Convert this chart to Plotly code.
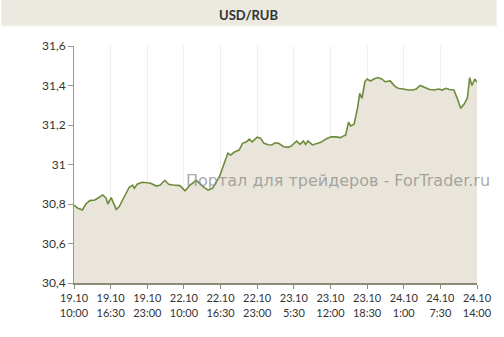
import plotly.graph_objects as go

# hours since 19.10 10:00
hours = [0.0, 0.6, 1.5, 2.1, 2.8, 3.7, 4.2, 5.1, 5.7, 6.0,
         6.6, 7.5, 8.0, 8.9, 9.8, 10.4, 10.7, 11.2, 12.1, 13.0,
         13.6, 14.6, 15.3, 16.1, 16.8, 17.6, 18.8, 19.7, 20.6, 21.7,
         22.9, 23.8, 24.6, 25.8, 26.7, 27.3, 27.8, 28.4, 29.3, 29.9,
         30.6, 31.1, 31.6, 32.5, 33.1, 33.7, 34.5, 35.1, 35.7, 36.3,
         37.2, 38.0, 38.6, 39.5, 40.1, 40.7, 41.1, 41.5, 42.3, 43.0,
         43.8, 44.7, 45.6, 46.5, 47.3, 47.9, 48.2, 48.7, 49.1, 49.7,
         50.3, 50.7, 51.1, 51.6, 52.0, 52.6, 53.2, 53.9, 54.6, 55.2,
         56.1, 56.9, 57.5, 58.4, 59.3, 60.1, 60.7, 61.4, 62.2, 63.1,
         63.9, 64.7, 65.3, 66.0, 66.6, 67.4, 68.0, 68.6, 69.2, 69.8,
         70.2, 70.6, 71.1, 71.5]
rate = [30.795, 30.780, 30.770, 30.800, 30.817, 30.820, 30.829, 30.846, 30.830, 30.800,
        30.832, 30.773, 30.786, 30.837, 30.885, 30.896, 30.880, 30.900, 30.910, 30.908,
        30.905, 30.891, 30.896, 30.920, 30.900, 30.896, 30.893, 30.867, 30.896, 30.920,
        30.888, 30.870, 30.880, 30.938, 31.006, 31.057, 31.048, 31.062, 31.073, 31.107,
        31.115, 31.129, 31.115, 31.138, 31.133, 31.107, 31.100, 31.099, 31.110, 31.107,
        31.090, 31.087, 31.094, 31.119, 31.102, 31.119, 31.102, 31.119, 31.099, 31.104,
        31.112, 31.129, 31.140, 31.140, 31.136, 31.146, 31.149, 31.214, 31.195, 31.204,
        31.285, 31.360, 31.335, 31.419, 31.433, 31.423, 31.433, 31.440, 31.433, 31.419,
        31.423, 31.397, 31.386, 31.382, 31.377, 31.377, 31.382, 31.400, 31.389, 31.380,
        31.377, 31.382, 31.377, 31.386, 31.380, 31.377, 31.335, 31.285, 31.305, 31.338,
        31.440, 31.400, 31.433, 31.416]

tick_hours = [0, 6.5, 13, 19.5, 26, 32.5, 39, 45.5, 52, 58.5, 65, 71.5]
tick_labels = ["19.10<br>10:00", "19.10<br>16:30", "19.10<br>23:00", "22.10<br>10:00",
               "22.10<br>16:30", "22.10<br>23:00", "23.10<br>5:30", "23.10<br>12:00",
               "23.10<br>18:30", "24.10<br>1:00", "24.10<br>7:30", "24.10<br>14:00"]
y_ticks = [30.4, 30.6, 30.8, 31.0, 31.2, 31.4, 31.6]

fig = go.Figure()
fig.add_trace(go.Scatter(
    x=hours, y=rate, mode="lines", fill="tozeroy",
    fillcolor="#E9E5DA", line=dict(color="#6E8B3D", width=1.6),
    hoverinfo="x+y", showlegend=False))

fig.update_layout(
    width=504, height=337,
    margin=dict(l=74, r=20, t=46, b=54),
    paper_bgcolor="white", plot_bgcolor="white",
    separators=", ",
    font=dict(family="Lato, 'Open Sans', sans-serif", size=11, color="#333333"),
    xaxis=dict(range=[0, 71.5], tickmode="array", tickvals=tick_hours,
               ticktext=tick_labels, showgrid=True, gridcolor="#EEEEEE",
               gridwidth=1, showline=True, linecolor="#8A8A78", linewidth=2,
               ticks="outside", ticklen=4, tickcolor="#8A8A78",
               zeroline=False, tickfont=dict(size=11)),
    yaxis=dict(range=[30.4, 31.6], tickmode="array", tickvals=y_ticks,
               showgrid=False, showline=True, linecolor="#999999", linewidth=1,
               ticks="outside", ticklen=5, tickcolor="#999999",
               zeroline=False, tickfont=dict(size=12), ticksuffix="  "),
)

# beige title band across the top of the picture
fig.add_shape(type="rect", xref="paper", yref="paper",
              x0=-74/410, x1=1 + 20/410, y0=1 + (46 - 26)/237, y1=1 + 46/237,
              fillcolor="#ECE9E0", line=dict(width=0), layer="below")
fig.add_shape(type="line", xref="paper", yref="paper",
              x0=-74/410, x1=1 + 20/410, y0=1 + (46 - 26)/237, y1=1 + (46 - 26)/237,
              line=dict(color="#F7F5F0", width=2))
fig.add_annotation(text="<b>USD/RUB</b>", xref="paper", yref="paper",
                   x=(252 - 74)/410, y=1 + (46 - 15)/237, showarrow=False,
                   font=dict(size=13, color="#333333",
                             family="Lato, 'Open Sans', sans-serif"),
                   xanchor="center", yanchor="middle")
fig.add_annotation(text="Портал для трейдеров - ForTrader.ru", xref="paper",
                   yref="paper", x=(342.5 - 74)/410, y=(283 - 181)/237,
                   showarrow=False, xanchor="center", yanchor="middle",
                   font=dict(size=16, color="rgba(140,140,140,0.75)",
                             family="'DejaVu Sans', Verdana, sans-serif"))

fig.write_html("out.html")
